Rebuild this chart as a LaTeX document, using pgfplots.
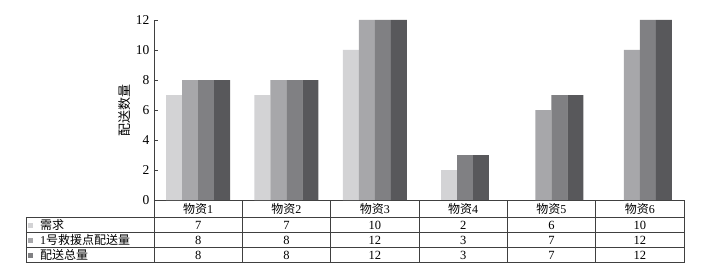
\documentclass[border=0pt]{standalone}
\usepackage{fontspec}
\setmainfont{Liberation Serif}
\newfontfamily\cjk{Noto Sans CJK SC}
\usepackage{pgfplots}
\pgfplotsset{compat=1.18}
\definecolor{cA}{HTML}{D3D3D5}
\definecolor{cB}{HTML}{A7A7AA}
\definecolor{cC}{HTML}{808083}
\definecolor{cD}{HTML}{58585B}
\definecolor{ln}{HTML}{404040}
\begin{document}
\begin{tikzpicture}
\begin{axis}[
  x=88.33pt, y=15pt,
  xmin=-0.5, xmax=5.5, ymin=0, ymax=12,
  axis y line*=left, axis x line*=bottom,
  axis line style={ln, line width=0.8pt},
  xtick=\empty,
  ytick={0,2,...,12},
  tick align=inside, major tick length=4pt,
  tick style={ln, line width=0.6pt},
  yticklabel style={font=\fontsize{13.5}{14}\selectfont, xshift=-1pt},
  /pgf/number format/assume math mode=true,
  ybar, bar width=0.181, clip=false,
  every axis plot/.append style={draw=none},
]
% light (需求)
\addplot[fill=cA, bar shift=-0.2715] coordinates {(0,7) (1,7) (2,10)};
\addplot[fill=cA, bar shift=-0.164] coordinates {(3,2)};
% mid gray
\addplot[fill=cB, bar shift=-0.0905] coordinates {(0,8) (1,8) (2,12) (4,6) (5,10)};
% darker gray
\addplot[fill=cC, bar shift=0.0905] coordinates {(0,8) (1,8) (2,12) (4,7) (5,12)};
\addplot[fill=cC, bar shift=0.017] coordinates {(3,3)};
% darkest
\addplot[fill=cD, bar shift=0.2715] coordinates {(0,8) (1,8) (2,12) (4,7) (5,12)};
\addplot[fill=cD, bar shift=0.198] coordinates {(3,3)};

% bounding box to match reference proportions
\path (axis cs:-2.243,-5.267) rectangle (axis cs:5.772,13.333);

% y label
\node[rotate=90, font=\cjk\fontsize{13}{14}\selectfont] at (axis cs:-0.83,6) {配送数量};

% data table lines
\pgfplotsinvokeforeach{-0.5,0.5,1.5,2.5,3.5,4.5,5.5}{
  \draw[ln, line width=0.8pt] (axis cs:#1,0) -- (axis cs:#1,-4.18);
}
\draw[ln, line width=0.8pt] (axis cs:-1.949,-1.18) -- (axis cs:-1.949,-4.18);
\pgfplotsinvokeforeach{-1.18,-2.18,-3.18,-4.18}{
  \draw[ln, line width=0.8pt] (axis cs:-1.949,#1) -- (axis cs:5.5,#1);
}
% header
\node[font=\cjk\fontsize{12}{13}\selectfont] at (axis cs:0,-0.6) {物资\fontspec{Liberation Serif}1};
\node[font=\cjk\fontsize{12}{13}\selectfont] at (axis cs:1,-0.6) {物资\fontspec{Liberation Serif}2};
\node[font=\cjk\fontsize{12}{13}\selectfont] at (axis cs:2,-0.6) {物资\fontspec{Liberation Serif}3};
\node[font=\cjk\fontsize{12}{13}\selectfont] at (axis cs:3,-0.6) {物资\fontspec{Liberation Serif}4};
\node[font=\cjk\fontsize{12}{13}\selectfont] at (axis cs:4,-0.6) {物资\fontspec{Liberation Serif}5};
\node[font=\cjk\fontsize{12}{13}\selectfont] at (axis cs:5,-0.6) {物资\fontspec{Liberation Serif}6};
% row labels
\node[fill=cA, minimum size=5pt, inner sep=0pt] at (axis cs:-1.898,-1.68) {};
\node[fill=cB, minimum size=5pt, inner sep=0pt] at (axis cs:-1.898,-2.68) {};
\node[fill=cC, minimum size=5pt, inner sep=0pt] at (axis cs:-1.898,-3.68) {};
\node[anchor=west, inner sep=0pt, font=\cjk\fontsize{12}{13}\selectfont] at (axis cs:-1.79,-1.68) {需求};
\node[anchor=west, inner sep=0pt, font=\cjk\fontsize{12}{13}\selectfont] at (axis cs:-1.79,-2.68) {{\fontspec{Liberation Serif}1}号救援点配送量};
\node[anchor=west, inner sep=0pt, font=\cjk\fontsize{12}{13}\selectfont] at (axis cs:-1.79,-3.68) {配送总量};
% values
\node[font=\fontsize{12.5}{13}\selectfont] at (axis cs:0,-1.68) {7};
\node[font=\fontsize{12.5}{13}\selectfont] at (axis cs:1,-1.68) {7};
\node[font=\fontsize{12.5}{13}\selectfont] at (axis cs:2,-1.68) {10};
\node[font=\fontsize{12.5}{13}\selectfont] at (axis cs:3,-1.68) {2};
\node[font=\fontsize{12.5}{13}\selectfont] at (axis cs:4,-1.68) {6};
\node[font=\fontsize{12.5}{13}\selectfont] at (axis cs:5,-1.68) {10};
\node[font=\fontsize{12.5}{13}\selectfont] at (axis cs:0,-2.68) {8};
\node[font=\fontsize{12.5}{13}\selectfont] at (axis cs:1,-2.68) {8};
\node[font=\fontsize{12.5}{13}\selectfont] at (axis cs:2,-2.68) {12};
\node[font=\fontsize{12.5}{13}\selectfont] at (axis cs:3,-2.68) {3};
\node[font=\fontsize{12.5}{13}\selectfont] at (axis cs:4,-2.68) {7};
\node[font=\fontsize{12.5}{13}\selectfont] at (axis cs:5,-2.68) {12};
\node[font=\fontsize{12.5}{13}\selectfont] at (axis cs:0,-3.68) {8};
\node[font=\fontsize{12.5}{13}\selectfont] at (axis cs:1,-3.68) {8};
\node[font=\fontsize{12.5}{13}\selectfont] at (axis cs:2,-3.68) {12};
\node[font=\fontsize{12.5}{13}\selectfont] at (axis cs:3,-3.68) {3};
\node[font=\fontsize{12.5}{13}\selectfont] at (axis cs:4,-3.68) {7};
\node[font=\fontsize{12.5}{13}\selectfont] at (axis cs:5,-3.68) {12};
\end{axis}
\end{tikzpicture}
\end{document}
